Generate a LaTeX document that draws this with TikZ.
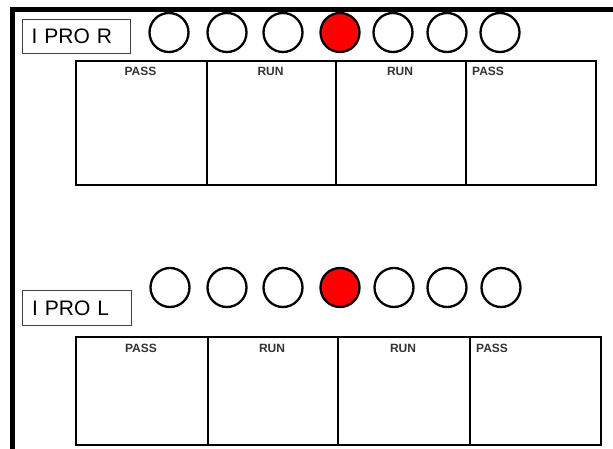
\documentclass[tikz,border=0pt]{standalone}
\usepackage{fontspec}
\setmainfont{Liberation Sans}
\begin{document}
\begin{tikzpicture}[x=1pt,y=-1pt,
  frame/.style={line width=5.5pt},
  tagbox/.style={draw=black!75,line width=1.3pt,minimum width=108pt,minimum height=34pt,inner sep=0pt,anchor=north west,text width=100pt,align=left,font=\fontsize{21}{24}\selectfont},
  lamp/.style={circle,draw,line width=2.3pt,minimum size=39pt,inner sep=0pt},
  lampon/.style={lamp,fill=red},
  cell/.style={draw,line width=2.3pt,anchor=north west,inner sep=0pt},
  colhead/.style={font=\bfseries\fontsize{12}{12}\selectfont,text=black!80,inner sep=0pt}
]
\useasboundingbox (0,0) rectangle (613,449);
% frame
\coordinate (fA) at (12.5,449);
\coordinate (fB) at (12.5,9.5);
\coordinate (fC) at (613,9.5);
\draw[frame] (fA) -- (fB) -- (fC);

% ---- upper panel
\node[tagbox] (tagR) at (22,19) {\hspace*{5pt}I PRO R};
\foreach \x/\n in {169/r1,227/r2,283/r3,393/r5,447/r6,500/r7}
  \node[lamp] (\n) at (\x,32.5) {};
\node[lampon] (r4) at (340,32.5) {};
\node[cell,minimum width=131pt,minimum height=124pt] (ra) at (75,60) {};
\node[cell,minimum width=129pt,minimum height=124pt] (rb) at (206,60) {};
\node[cell,minimum width=130pt,minimum height=124pt] (rc) at (335,60) {};
\node[cell,minimum width=130pt,minimum height=124pt] (rd) at (465,60) {};
\node[colhead] (ha) at (140.5,71.5) {PASS};
\node[colhead] (hb) at (270.5,71.5) {RUN};
\node[colhead] (hc) at (400,71.5) {RUN};
\node[colhead,anchor=west] (hd) at (472,71.5) {PASS};

% ---- lower panel
\node[tagbox,minimum width=109pt,minimum height=35pt] (tagL) at (22,290) {\hspace*{5pt}I PRO L};
\foreach \x/\n in {170/l1,227/l2,283/l3,394/l5,447/l6,501/l7}
  \node[lamp] (\n) at (\x,287.5) {};
\node[lampon] (l4) at (340,287.5) {};
\node[cell,minimum width=132pt,minimum height=108pt] (la) at (75,336) {};
\node[cell,minimum width=130pt,minimum height=108pt] (lb) at (207,336) {};
\node[cell,minimum width=132pt,minimum height=108pt] (lc) at (337,336) {};
\node[cell,minimum width=131pt,minimum height=108pt] (ld) at (469,336) {};
\node[colhead] (ga) at (141,348) {PASS};
\node[colhead] (gb) at (272,348) {RUN};
\node[colhead] (gc) at (403,348) {RUN};
\node[colhead,anchor=west] (gd) at (476,348) {PASS};
\end{tikzpicture}
\end{document}
